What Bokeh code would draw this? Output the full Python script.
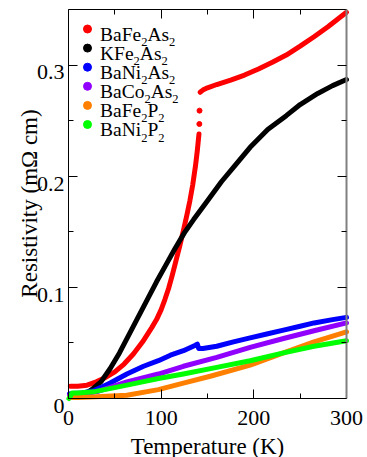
import numpy as np
from bokeh.plotting import figure
from bokeh.models import Range1d, LinearAxis, FixedTicker, ColumnDataSource
from bokeh.embed import file_html
from bokeh.resources import INLINE
from bokeh.core.properties import value

# ---------------- data ----------------
bafe2as2_T_low = [2, 10, 20, 30, 40, 50, 60, 70, 80, 90, 95, 100, 104, 108, 112, 116, 120, 124, 128,
                  131, 134, 137, 139, 140.8]
bafe2as2_R_low = [0.011, 0.011, 0.012, 0.015, 0.019, 0.024, 0.031, 0.040, 0.051, 0.064, 0.071, 0.080,
                  0.089, 0.099, 0.111, 0.124, 0.137, 0.151, 0.166, 0.178, 0.192, 0.209, 0.223, 0.238]
bafe2as2_T_jump = [141.2, 141.4]
bafe2as2_R_jump = [0.247, 0.259]
bafe2as2_T_high = [142, 145, 150, 160, 175, 190, 205, 220, 235, 250, 265, 280, 290, 300]
bafe2as2_R_high = [0.2755, 0.2775, 0.2795, 0.2825, 0.2865, 0.291, 0.2965, 0.3025, 0.309, 0.317,
                   0.3255, 0.3345, 0.341, 0.3475]

kfe2as2_T = [2, 10, 18, 25, 35, 45, 55, 65, 75, 85, 95, 105, 115, 125, 135, 150, 165, 180, 196, 215,
             235, 250, 269, 285, 300]
kfe2as2_R = [0.001, 0.002, 0.004, 0.008, 0.015, 0.027, 0.041, 0.057, 0.073, 0.089, 0.105, 0.120,
             0.135, 0.149, 0.161, 0.178, 0.195, 0.210, 0.226, 0.242, 0.2545, 0.2645, 0.2745, 0.2815,
             0.287]

bani2as2_T = [1, 5, 15, 27, 35, 45, 63, 81, 97, 110, 124, 137, 139, 140.5, 145, 160, 178, 196,
              214, 232, 250, 265, 285, 300]
bani2as2_R = [0.004, 0.0045, 0.005, 0.007, 0.010, 0.014, 0.022, 0.029, 0.034, 0.039, 0.043,
              0.048, 0.049, 0.045, 0.045, 0.047, 0.051, 0.0545, 0.058, 0.0615, 0.065, 0.068, 0.071, 0.073]

baco2as2_T = [1, 10, 30, 63, 97, 124, 160, 196, 232, 265, 300]
baco2as2_R = [0.003, 0.0035, 0.006, 0.015, 0.022, 0.029, 0.037, 0.046, 0.054, 0.061, 0.068]

bafe2p2_T = [1, 10, 30, 63, 97, 125, 153, 196, 232, 265, 300]
bafe2p2_R = [0.001, 0.001, 0.0015, 0.003, 0.008, 0.014, 0.020, 0.030, 0.041, 0.051, 0.060]

bani2p2_T = [0.5, 2, 4, 10, 27, 63, 97, 124, 160, 196, 232, 265, 300]
bani2p2_R = [0.0, 0.002, 0.005, 0.005, 0.006, 0.012, 0.018, 0.022, 0.028, 0.034, 0.041, 0.047, 0.052]

names = ["BaFe2As2", "KFe2As2", "BaNi2As2", "BaCo2As2", "BaFe2P2", "BaNi2P2"]
colors = ["#ff0000", "#000000", "#0000ff", "#9000ff", "#ff8000", "#00ff00"]

x_ticks = [0, 100, 200, 300]
x_labels = ["0", "100", "200", "300"]
x_minor = [50, 150, 250]
y_ticks = [0, 0.1, 0.2, 0.3]
y_labels = ["0", "0.1", "0.2", "0.3"]
y_minor = [0.05, 0.15, 0.25]
x_title = "Temperature (K)"
y_title = "Resistivity (mΩ cm)"

# ---------------- layout ----------------
W, H = 367, 457
L, R, T, B = 68, 346, 14, 403          # pixel box of the data area [0,300] x [0,0.35]
XMAX, YMAX = 300, 0.35
SHIFT = 5                               # observed vertical offset of the frame on the page
FONT = "Liberation Serif"

def px2x(px):
    return (px - L) / (R - L) * XMAX
def py2y(py):
    return (B - py) / (B - T) * YMAX
def y2py(y):
    return B - y / YMAX * (B - T)

# the plotting frame covers the whole canvas; the axes sit at fixed data locations
p = figure(width=W, height=H, output_backend="svg", toolbar_location=None,
           x_range=Range1d(px2x(0), px2x(W)), y_range=Range1d(py2y(H + SHIFT), py2y(SHIFT)),
           x_axis_location=None, y_axis_location=None,
           min_border_left=0, min_border_right=0, min_border_top=0, min_border_bottom=0)
p.title.visible = False
p.background_fill_color = "white"
p.border_fill_color = "white"
p.outline_line_color = None
p.grid.visible = False

xt = FixedTicker(ticks=x_ticks, minor_ticks=x_minor)
yt = FixedTicker(ticks=y_ticks, minor_ticks=y_minor)

def make_axis(ticker, ticks, loc, bounds, color="black", width=1):
    ax = LinearAxis(ticker=ticker, fixed_location=loc, bounds=bounds)
    ax.major_tick_in = 9
    ax.major_tick_out = 0
    ax.minor_tick_in = 5
    ax.minor_tick_out = 0
    ax.major_tick_line_color = "black"
    ax.minor_tick_line_color = "black"
    ax.axis_line_color = color
    ax.axis_line_width = width
    ax.major_label_overrides = {t: "" for t in ticks}
    ax.major_label_standoff = 0
    ax.axis_label_standoff = 0
    return ax

p.add_layout(make_axis(xt, x_ticks, 0, (0, XMAX)), "below")
p.add_layout(make_axis(xt, x_ticks, YMAX, (0, XMAX)), "above")
p.add_layout(make_axis(yt, y_ticks, 0, (0, YMAX)), "left")
p.add_layout(make_axis(yt, y_ticks, XMAX, (0, YMAX), color="#808080", width=2), "right")

# ---------------- tick labels and axis titles (text glyphs) ----------------
p.text(x=x_ticks, y=[py2y(422.5)] * len(x_ticks), text=x_labels,
       text_font=value(FONT), text_font_size="22px", text_color="black",
       text_align="center", text_baseline="alphabetic")
p.text(x=[px2x(64)] * len(y_ticks), y=[py2y(y2py(t) + 7.4) for t in y_ticks], text=y_labels,
       text_font=value(FONT), text_font_size="22px", text_color="black",
       text_align="right", text_baseline="alphabetic")
p.text(x=[XMAX / 2], y=[py2y(451)], text=[x_title],
       text_font=value(FONT), text_font_size="23px", text_color="black",
       text_align="center", text_baseline="alphabetic")
p.text(x=[px2x(28.5)], y=[py2y(208)], text=[y_title], angle=np.pi / 2,
       text_font=value(FONT), text_font_size="23px", text_color="black",
       text_align="center", text_baseline="alphabetic")

# ---------------- curves ----------------
LW = 5
def line(xs, ys, c):
    p.line(xs, ys, line_color=c, line_width=LW, line_cap="round", line_join="round")

line(bafe2as2_T_low, bafe2as2_R_low, colors[0])
p.scatter(bafe2as2_T_jump, bafe2as2_R_jump, size=5, color=colors[0])
line(bafe2as2_T_high, bafe2as2_R_high, colors[0])
line(kfe2as2_T, kfe2as2_R, colors[1])
line(bani2as2_T, bani2as2_R, colors[2])
line(baco2as2_T, baco2as2_R, colors[3])
line(bafe2p2_T, bafe2p2_R, colors[4])
line(bani2p2_T, bani2p2_R, colors[5])

# ---------------- legend (drawn by hand for subscripts) ----------------
TIMES_W = {"B": 667, "a": 444, "F": 556, "e": 444, "A": 722, "s": 389, "K": 722, "N": 722,
           "i": 278, "C": 667, "o": 500, "P": 556, "2": 500}
MAIN, SUB = 19.5, 12.5
row0, dy = 33.5, 19.1
mk_x, txt_x = 87, 99.5

mx, my, mc = [], [], []
main_src = dict(x=[], y=[], text=[])
sub_src = dict(x=[], y=[], text=[])
for i, (name, c) in enumerate(zip(names, colors)):
    yc = row0 + i * dy
    mx.append(px2x(mk_x)); my.append(py2y(yc)); mc.append(c)
    cx = txt_x
    runs = []
    for ch in name:
        isd = ch.isdigit()
        if runs and runs[-1][1] == isd:
            runs[-1][0] += ch
        else:
            runs.append([ch, isd])
    for txt, isd in runs:
        size = SUB if isd else MAIN
        tgt = sub_src if isd else main_src
        tgt["x"].append(px2x(cx))
        tgt["y"].append(py2y(yc + (13 if isd else 5)))
        tgt["text"].append(txt)
        cx += sum(TIMES_W[ch] for ch in txt) / 1000 * size

p.scatter(mx, my, size=8, color=mc)
p.text(x="x", y="y", text="text", source=ColumnDataSource(main_src),
       text_font=value(FONT), text_font_size=f"{MAIN}px", text_color="black",
       text_baseline="alphabetic", text_align="left")
p.text(x="x", y="y", text="text", source=ColumnDataSource(sub_src),
       text_font=value(FONT), text_font_size=f"{SUB}px", text_color="black",
       text_baseline="alphabetic", text_align="left")

open("out.html", "w").write(file_html(p, INLINE))
